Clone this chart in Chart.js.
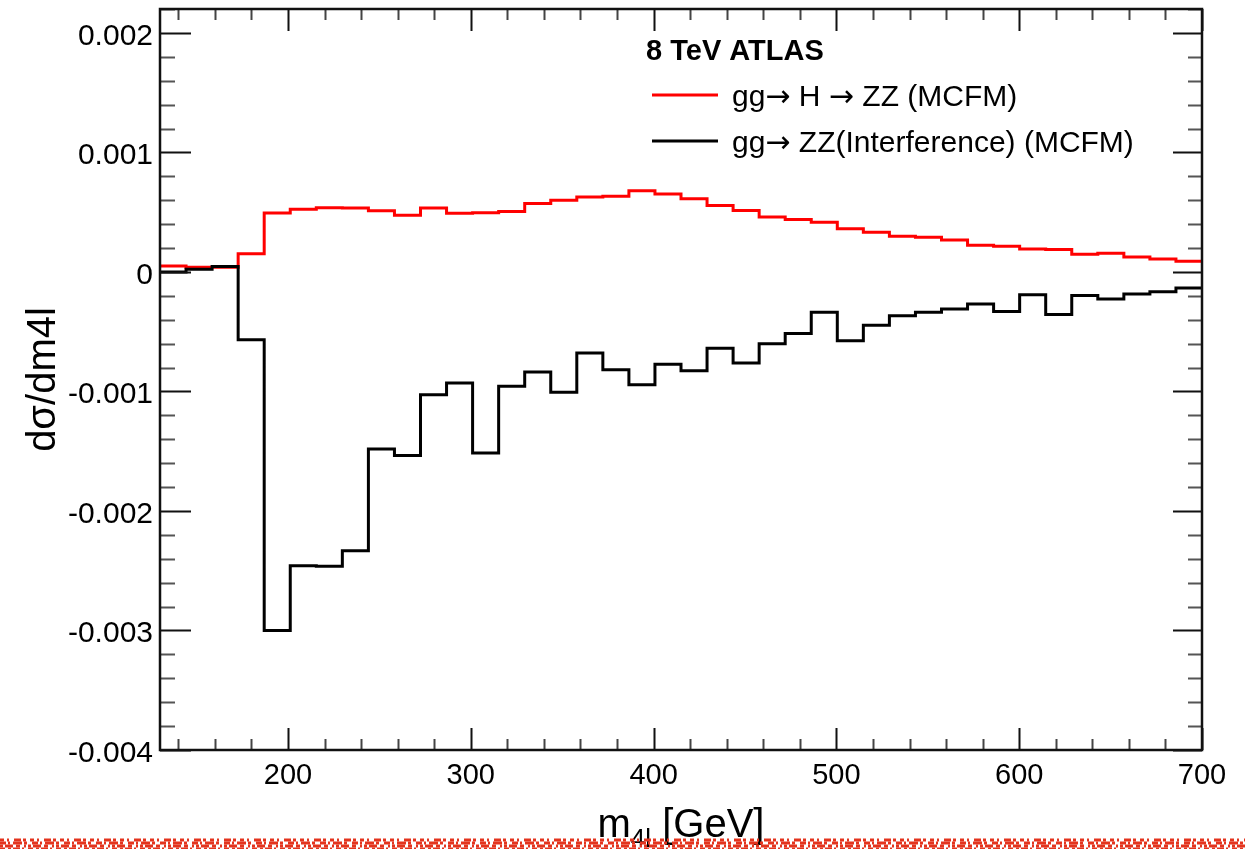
<!DOCTYPE html>
<html>
<head>
<meta charset="utf-8">
<title>gg → ZZ, dσ/dm4l</title>
<script src="https://cdn.jsdelivr.net/npm/chart.js@4/dist/chart.umd.min.js"></script>
<style>
    html, body { margin: 0; padding: 0; background: #fff; }
    #wrap { width: 1245px; height: 849px; }
</style>
</head>
<body>
<div id="wrap"><canvas id="massChart" width="1245" height="849"></canvas></div>
<script>
// ---------------------------------------------------------------------------
// Data: m4l bin edges [GeV] and dσ/dm4l per bin
// ---------------------------------------------------------------------------
const binEdges = [
    130, 144.25, 158.5, 172.75, 187, 201.25, 215.5, 229.75, 244, 258.25,
    272.5, 286.75, 301, 315.25, 329.5, 343.75, 358, 372.25, 386.5, 400.75,
    415, 429.25, 443.5, 457.75, 472, 486.25, 500.5, 514.75, 529, 543.25,
    557.5, 571.75, 586, 600.25, 614.5, 628.75, 643, 657.25, 671.5, 685.75,
    700,
];

const higgsSignal = [
    0.00005, 0.00004, 0.00004, 0.000153, 0.000494, 0.000524, 0.000536, 0.000535, 0.000511, 0.000474,
    0.000535, 0.00049, 0.000496, 0.000505, 0.000572, 0.000599, 0.000627, 0.000633, 0.00068, 0.000653,
    0.000613, 0.000555, 0.000513, 0.00046, 0.000438, 0.000415, 0.000362, 0.000332, 0.000298, 0.00029,
    0.000268, 0.000223, 0.000214, 0.000192, 0.000187, 0.000148, 0.000156, 0.000126, 0.000109, 0.000089,
];

const interference = [
    0.0, 0.000022, 0.000045, -0.000567, -0.003, -0.002458, -0.002463, -0.002332, -0.001481, -0.001535,
    -0.001027, -0.000929, -0.001515, -0.000957, -0.000837, -0.001007, -0.000678, -0.000818, -0.000943, -0.000773,
    -0.000826, -0.000639, -0.000762, -0.0006, -0.000516, -0.000338, -0.000575, -0.000447, -0.000366, -0.000338,
    -0.00031, -0.000268, -0.00033, -0.00019, -0.000357, -0.000198, -0.000226, -0.000184, -0.000165, -0.000134,
];

const yTickLabels = ["0.002", "0.001", "0", "-0.001", "-0.002", "-0.003", "-0.004"];
const yTickValues = [0.002, 0.001, 0, -0.001, -0.002, -0.003, -0.004];
const xTickValues = [200, 300, 400, 500, 600, 700];

const headerText = "8 TeV ATLAS";
const signalLabel = "gg\u2192 H \u2192 ZZ (MCFM)";
const interfLabel = "gg\u2192 ZZ(Interference) (MCFM)";

const FONT = '"Liberation Sans", Arial, Helvetica, sans-serif';
const ARROW_FONT = '"DejaVu Sans", sans-serif';

// left bin edge + value, closed with the upper edge of the last bin
function histPoints(values) {
    const pts = values.map((v, i) => ({ x: binEdges[i], y: v }));
    pts.push({ x: binEdges[binEdges.length - 1], y: values[values.length - 1] });
    return pts;
}

// text with the arrows taken from DejaVu (the Liberation arrow is tiny)
function fillMixed(ctx, text, x, y, size) {
    const parts = text.split(/(\u2192)/);
    for (const p of parts) {
        if (!p) continue;
        ctx.font = p === "\u2192" ? `${size}px ${ARROW_FONT}` : `${size}px ${FONT}`;
        ctx.fillText(p, x, y);
        x += ctx.measureText(p).width;
    }
}

// ---------------------------------------------------------------------------
// Frame, inward ticks, labels and legend (ROOT look)
// ---------------------------------------------------------------------------
const rootFrame = {
    id: "rootFrame",
    afterDraw(chart) {
        const { ctx, chartArea: a, scales } = chart;
        const xs = scales.x, ys = scales.y;
        ctx.save();

        // ticks along x (top and bottom)
        ctx.lineWidth = 2;
        for (let v = 140; v <= 700; v += 20) {
            const px = Math.round(xs.getPixelForValue(v)) + 0.5;
            const major = v % 100 === 0;
            const len = major ? 22 : 11;
            ctx.strokeStyle = major ? "#111" : "#444";
            ctx.beginPath();
            ctx.moveTo(px, a.bottom); ctx.lineTo(px, a.bottom - len);
            ctx.moveTo(px, a.top); ctx.lineTo(px, a.top + len);
            ctx.stroke();
        }

        // ticks along y (left and right), minor every 0.0002
        for (let k = -20; k <= 11; k++) {
            const py = Math.round(ys.getPixelForValue(k * 0.0002)) + 0.5;
            const major = k % 5 === 0;
            ctx.strokeStyle = major ? "#111" : "#555";
            ctx.beginPath();
            ctx.moveTo(a.left, py); ctx.lineTo(a.left + (major ? 31 : 15), py);
            ctx.moveTo(a.right, py); ctx.lineTo(a.right - (major ? 29 : 14), py);
            ctx.stroke();
        }

        // frame
        ctx.strokeStyle = "#111";
        ctx.lineWidth = 2.5;
        ctx.strokeRect(a.left, a.top, a.right - a.left, a.bottom - a.top);

        // tick labels
        ctx.fillStyle = "#000";
        ctx.font = `30px ${FONT}`;
        ctx.textAlign = "right";
        ctx.textBaseline = "alphabetic";
        yTickValues.forEach((v, i) => {
            ctx.fillText(yTickLabels[i], a.left - 7, ys.getPixelForValue(v) + 12);
        });
        ctx.font = `29px ${FONT}`;
        ctx.textAlign = "center";
        xTickValues.forEach(v => {
            ctx.fillText(String(v), xs.getPixelForValue(v), 784);
        });

        // x title: m_{4l} [GeV]
        const cx = (a.left + a.right) / 2;
        ctx.textAlign = "left";
        ctx.font = `40px ${FONT}`;
        const wM = ctx.measureText("m").width;
        const wRest = ctx.measureText(" [GeV]").width;
        ctx.font = `26px ${FONT}`;
        const wSub = ctx.measureText("4l").width;
        let tx = cx - (wM + wSub + wRest) / 2;
        ctx.font = `40px ${FONT}`;
        ctx.fillText("m", tx, 837);
        tx += wM;
        ctx.font = `26px ${FONT}`;
        ctx.fillText("4l", tx, 847);
        tx += wSub;
        ctx.font = `40px ${FONT}`;
        ctx.fillText(" [GeV]", tx, 837);

        // y title
        ctx.save();
        ctx.translate(55, (a.top + a.bottom) / 2);
        ctx.rotate(-Math.PI / 2);
        ctx.textAlign = "center";
        ctx.font = `40px ${FONT}`;
        ctx.fillText("d\u03c3/dm4l", 0, 0);
        ctx.restore();

        // legend
        ctx.textAlign = "left";
        ctx.font = `bold 29px ${FONT}`;
        ctx.fillText(headerText, 646, 60);
        const ds = chart.data.datasets;
        [[ds[1], 95, 106], [ds[0], 141, 152]].forEach(([d, ly, by]) => {
            ctx.strokeStyle = d.borderColor;
            ctx.lineWidth = 3;
            ctx.beginPath();
            ctx.moveTo(652, ly); ctx.lineTo(718, ly);
            ctx.stroke();
            ctx.fillStyle = "#000";
            fillMixed(ctx, d.label, 732, by, 30);
        });

        // ragged red strip along the bottom edge
        ctx.strokeStyle = "#e3341e";
        ctx.lineWidth = 3;
        const rows = [
            [840, [4, 3, 2, 5, 7, 2, 3, 4]],
            [843, [6, 2, 2, 3, 9, 2, 3, 5]],
            [846, [3, 2, 8, 3, 4, 4, 2, 2]],
            [849, [5, 3, 3, 2, 7, 2, 2, 4]],
        ];
        rows.forEach(([ry, dash]) => {
            ctx.setLineDash(dash);
            ctx.beginPath();
            ctx.moveTo(0, ry); ctx.lineTo(1245, ry);
            ctx.stroke();
        });
        ctx.setLineDash([]);

        ctx.restore();
    },
};

// ---------------------------------------------------------------------------
// Chart
// ---------------------------------------------------------------------------
new Chart(document.getElementById("massChart"), {
    type: "line",
    data: {
        datasets: [
            {
                label: interfLabel,
                data: histPoints(interference),
                borderColor: "#000000",
                borderWidth: 3,
                stepped: "before",
                pointRadius: 0,
                fill: false,
                order: 0,
            },
            {
                label: signalLabel,
                data: histPoints(higgsSignal),
                borderColor: "#ff0000",
                borderWidth: 3,
                stepped: "before",
                pointRadius: 0,
                fill: false,
                order: 1,
            },
        ],
    },
    options: {
        responsive: false,
        animation: false,
        devicePixelRatio: 1,
        layout: { padding: { left: 0, right: 43, top: 9, bottom: 0 } },
        plugins: {
            legend: { display: false },
            tooltip: { enabled: false },
        },
        scales: {
            x: {
                type: "linear",
                min: 130,
                max: 700,
                grid: { display: false },
                border: { display: false },
                ticks: { display: false },
                afterFit: s => { s.height = 99; },
            },
            y: {
                type: "linear",
                min: -0.004,
                max: 0.0022,
                grid: { display: false },
                border: { display: false },
                ticks: { display: false },
                afterFit: s => { s.width = 160; },
            },
        },
    },
    plugins: [rootFrame],
});
</script>
</body>
</html>
